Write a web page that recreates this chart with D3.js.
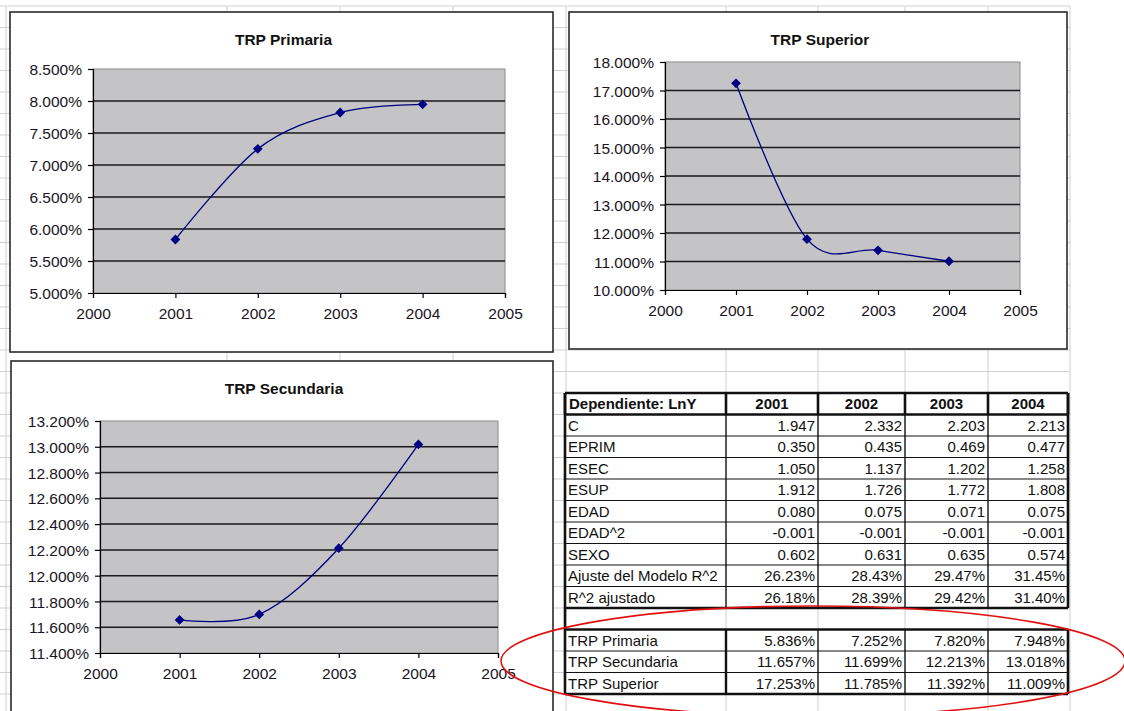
<!DOCTYPE html>
<html lang="es">
<head>
<meta charset="UTF-8">
<title>TRP</title>
<style>
  body { margin: 0; background: #fff; }
  svg { display: block; font-family: "Liberation Sans", Arial, sans-serif; }
  .sheet line { stroke: #cfcfcf; stroke-width: 1; }
  .frame { fill: #fff; stroke: #2a2a2a; stroke-width: 1.6; }
  .plotbg { fill: #c4c3c6; stroke: #8a8a8a; stroke-width: 1; }
  .grid line { stroke: #1a1a1a; stroke-width: 1.5; }
  .axis path, .axis line { stroke: #000; stroke-width: 1.2; }
  .axis text { font-size: 15.5px; fill: #1a1424; font-family: "Liberation Sans", Arial, sans-serif; }
  .title { font-size: 15.5px; font-weight: bold; fill: #111; }
  .serie { fill: none; stroke: #000080; stroke-width: 1.3; }
  .mark { fill: #000080; }
  .cell { font-size: 15px; fill: #111; }
  .head { font-weight: bold; }
</style>
<script src="https://cdn.jsdelivr.net/npm/d3@7"></script>
</head>
<body>
<svg id="main" width="1124" height="711"></svg>
<script>
// datos
const years = [2001, 2002, 2003, 2004];
const xTicks = [2000, 2001, 2002, 2003, 2004, 2005];

const trpPrimaria   = [5.836, 7.252, 7.820, 7.948];
const trpSecundaria = [11.657, 11.699, 12.213, 13.018];
const trpSuperior   = [17.253, 11.785, 11.392, 11.009];

const yTicksPrimaria   = [5.0, 5.5, 6.0, 6.5, 7.0, 7.5, 8.0, 8.5];
const yTicksSuperior   = [10, 11, 12, 13, 14, 15, 16, 17, 18];
const yTicksSecundaria = [11.4, 11.6, 11.8, 12.0, 12.2, 12.4, 12.6, 12.8, 13.0, 13.2];

const coefLabels = ["C", "EPRIM", "ESEC", "ESUP", "EDAD", "EDAD^2", "SEXO",
                    "Ajuste del Modelo R^2", "R^2 ajustado"];
const coefC      = [1.947, 2.332, 2.203, 2.213];
const coefEprim  = [0.350, 0.435, 0.469, 0.477];
const coefEsec   = [1.050, 1.137, 1.202, 1.258];
const coefEsup   = [1.912, 1.726, 1.772, 1.808];
const coefEdad   = [0.080, 0.075, 0.071, 0.075];
const coefEdad2  = [-0.001, -0.001, -0.001, -0.001];
const coefSexo   = [0.602, 0.631, 0.635, 0.574];
const ajusteR2   = [26.23, 28.43, 29.47, 31.45];
const r2Ajustado = [26.18, 28.39, 29.42, 31.40];

const trpLabels = ["TRP Primaria", "TRP Secundaria", "TRP Superior"];

const svg = d3.select("#main");
const loc = d3.formatLocale({decimal: ".", thousands: ",", grouping: [3],
                             currency: ["$", ""], minus: "-"});

// cuadricula de la hoja
const colLines = [6, 227, 340, 453, 566, 726, 818, 905, 988, 1070];
const rowLines = d3.range(393 - 18 * 21.5, 720, 21.5);
const sheet = svg.append("g").attr("class", "sheet");
sheet.selectAll("line.v").data(colLines).enter().append("line")
    .attr("class", "v").attr("x1", d => d).attr("x2", d => d)
    .attr("y1", 7).attr("y2", 711);
sheet.selectAll("line.h").data(rowLines).enter().append("line")
    .attr("class", "h").attr("x1", 0).attr("x2", 1070)
    .attr("y1", d => d).attr("y2", d => d);

// graficos
const charts = [
    {title: "TRP Primaria", values: trpPrimaria, ticks: yTicksPrimaria,
     frame: [10, 12, 553, 352], plot: [93, 69, 505, 293], titleY: 45},
    {title: "TRP Superior", values: trpSuperior, ticks: yTicksSuperior,
     frame: [569, 12, 1067, 349], plot: [665, 62, 1020, 290], titleY: 45},
    {title: "TRP Secundaria", values: trpSecundaria, ticks: yTicksSecundaria,
     frame: [11, 361, 553, 730], plot: [100, 421, 498, 653], titleY: 394}
];

const pct = loc.format(".3f");

charts.forEach(c => {
    const g = svg.append("g");
    const [fx0, fy0, fx1, fy1] = c.frame;
    const [px0, py0, px1, py1] = c.plot;

    g.append("rect").attr("class", "frame")
        .attr("x", fx0).attr("y", fy0)
        .attr("width", fx1 - fx0).attr("height", fy1 - fy0);

    g.append("text").attr("class", "title")
        .attr("x", (fx0 + fx1) / 2 + 2).attr("y", c.titleY)
        .attr("text-anchor", "middle").text(c.title);

    const x = d3.scaleLinear().domain(d3.extent(xTicks)).range([px0, px1]);
    const y = d3.scaleLinear().domain(d3.extent(c.ticks)).range([py1, py0]);

    g.append("rect").attr("class", "plotbg")
        .attr("x", px0).attr("y", py0)
        .attr("width", px1 - px0).attr("height", py1 - py0);

    g.append("g").attr("class", "grid")
        .selectAll("line")
        .data(c.ticks.slice(1, -1))
        .enter().append("line")
        .attr("x1", px0).attr("x2", px1)
        .attr("y1", d => y(d)).attr("y2", d => y(d));

    g.append("g").attr("class", "axis")
        .attr("transform", `translate(${px0},0)`)
        .call(d3.axisLeft(y).tickValues(c.ticks).tickSize(5).tickPadding(6)
            .tickFormat(d => pct(d) + "%"))
        .call(a => a.selectAll("text").attr("dy", "0.36em"));

    g.append("g").attr("class", "axis")
        .attr("transform", `translate(0,${py1})`)
        .call(d3.axisBottom(x).tickValues(xTicks).tickSize(5).tickPadding(10)
            .tickFormat(d3.format("d")));

    const pts = years.map((yr, i) => [yr, c.values[i]]);
    const line = d3.line()
        .x(d => x(d[0])).y(d => y(d[1]))
        .curve(d3.curveCardinal.tension(0));
    g.append("path").attr("class", "serie").attr("d", line(pts));

    g.selectAll("path.mark").data(pts).enter().append("path")
        .attr("class", "mark")
        .attr("d", d3.symbol(d3.symbolSquare, 48))
        .attr("transform", d => `translate(${x(d[0])},${y(d[1])}) rotate(45)`);
});

// tabla
const colX = [565, 726, 818, 905, 988, 1068];
const rowH = 21.5;
const top0 = 393;
const rowY = i => top0 + i * rowH;
const tbl = svg.append("g");

const f3 = loc.format(".3f");
const f2p = v => loc.format(".2f")(v) + "%";
const f3p = v => loc.format(".3f")(v) + "%";

const bodyRows = [
    [coefLabels[0], coefC, f3],
    [coefLabels[1], coefEprim, f3],
    [coefLabels[2], coefEsec, f3],
    [coefLabels[3], coefEsup, f3],
    [coefLabels[4], coefEdad, f3],
    [coefLabels[5], coefEdad2, f3],
    [coefLabels[6], coefSexo, f3],
    [coefLabels[7], ajusteR2, f2p],
    [coefLabels[8], r2Ajustado, f2p]
];
const trpRows = [
    [trpLabels[0], trpPrimaria, f3p],
    [trpLabels[1], trpSecundaria, f3p],
    [trpLabels[2], trpSuperior, f3p]
];

// fondo blanco de celdas
tbl.append("rect").attr("x", colX[0]).attr("y", rowY(0))
    .attr("width", colX[5] - colX[0]).attr("height", rowH * 10).attr("fill", "#fff");
tbl.append("rect").attr("x", colX[0]).attr("y", rowY(11))
    .attr("width", colX[5] - colX[0]).attr("height", rowH * 3).attr("fill", "#fff");

function hline(x0, x1, yy, w) {
    tbl.append("line").attr("x1", x0).attr("x2", x1).attr("y1", yy).attr("y2", yy)
        .attr("stroke", "#111").attr("stroke-width", w);
}
function vline(xx, y0, y1, w) {
    tbl.append("line").attr("x1", xx).attr("x2", xx).attr("y1", y0).attr("y2", y1)
        .attr("stroke", "#111").attr("stroke-width", w);
}

// bloque 1: lineas finas
for (let i = 2; i <= 9; i++) hline(colX[0], colX[5], rowY(i), 1.2);
colX.slice(1, 5).forEach(cx => vline(cx, rowY(1), rowY(10), 1.4));
// bloque trp
for (let i = 12; i <= 13; i++) hline(colX[0], colX[5], rowY(i), 1.2);
colX.slice(2, 5).forEach(cx => vline(cx, rowY(11), rowY(14), 1.4));
vline(colX[1], rowY(11), rowY(14), 2.4);
// encabezado y bordes gruesos
hline(colX[0], colX[5], rowY(0), 2.6);
hline(colX[0], colX[5], rowY(1), 2.6);
colX.forEach(cx => vline(cx, rowY(0), rowY(1), 2.6));
vline(colX[0], rowY(0), rowY(14), 2.6);
vline(colX[5], rowY(0), rowY(10), 2.6);
vline(colX[5], rowY(11), rowY(14), 2.6);
hline(colX[0], colX[5], rowY(10), 2.6);
hline(colX[0], colX[5], rowY(11), 2.6);
hline(colX[0], colX[5], rowY(14), 2.6);

// textos
tbl.append("text").attr("class", "cell head")
    .attr("x", colX[0] + 4).attr("y", rowY(0) + 16).text("Dependiente: LnY");
years.forEach((yr, j) => {
    tbl.append("text").attr("class", "cell head")
        .attr("x", (colX[j + 1] + colX[j + 2]) / 2).attr("y", rowY(0) + 16)
        .attr("text-anchor", "middle").text(yr);
});

function drawRows(rows, startIdx) {
    rows.forEach((r, i) => {
        const yy = rowY(startIdx + i) + 16;
        tbl.append("text").attr("class", "cell")
            .attr("x", colX[0] + 3).attr("y", yy).text(r[0]);
        r[1].forEach((v, j) => {
            tbl.append("text").attr("class", "cell")
                .attr("x", colX[j + 2] - 3).attr("y", yy)
                .attr("text-anchor", "end").text(r[2](v));
        });
    });
}
drawRows(bodyRows, 1);
drawRows(trpRows, 11);

// elipse roja
svg.append("ellipse")
    .attr("cx", 813).attr("cy", 661).attr("rx", 312).attr("ry", 55)
    .attr("fill", "none").attr("stroke", "#e01010").attr("stroke-width", 1.6);
</script>
</body>
</html>
